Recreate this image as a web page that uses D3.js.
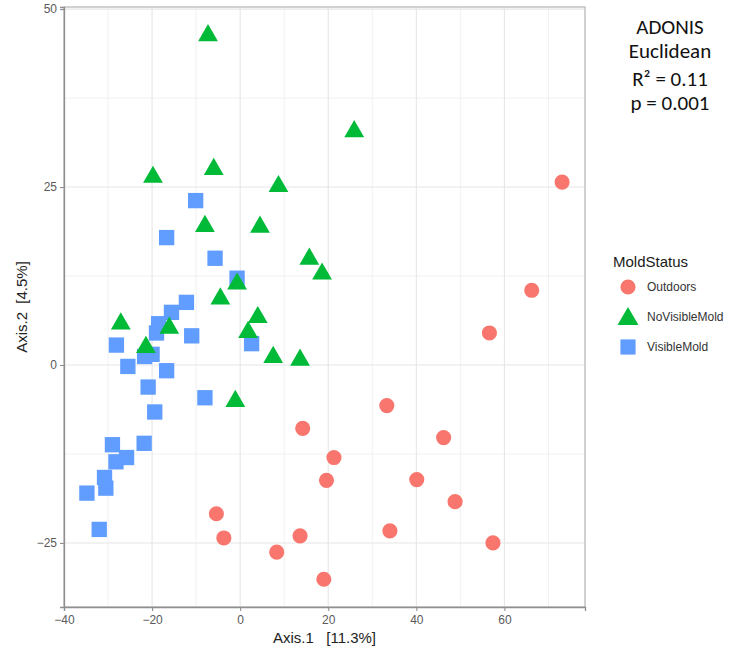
<!DOCTYPE html>
<html>
<head>
<meta charset="utf-8">
<script src="https://cdn.jsdelivr.net/npm/d3@7"></script>
<style>
  html, body { margin: 0; padding: 0; background: #ffffff; }
  svg { display: block; }
</style>
</head>
<body>
<svg id="chart" width="734" height="651"></svg>
<script>
// PCoA ordination of samples, coloured and shaped by mould status
const groups = ["Outdoors", "NoVisibleMold", "VisibleMold"];
const groupColors = ["#F8766D", "#00BA38", "#619CFF"];

const outdoorsX = [73.1, 66.2, 56.6, 33.3, 14.2, 46.2, 21.3, 19.6, 40.1, 48.8, -5.4, -3.7, 13.6, 34.0, 57.4, 8.3, 19.0];
const outdoorsY = [25.7, 10.5, 4.5, -5.7, -8.9, -10.2, -13.0, -16.2, -16.1, -19.2, -20.9, -24.3, -24.0, -23.3, -25.0, -26.3, -30.1];

const noVisibleX = [-7.3, 25.9, -19.8, -6.0, 8.7, -8.0, 4.5, 15.7, 18.6, -0.7, -4.5, 4.0, 1.8, -16.1, -27.1, -21.4, 7.5, 13.6, -1.1];
const noVisibleY = [46.3, 32.8, 26.4, 27.5, 25.1, 19.5, 19.4, 14.9, 12.8, 11.4, 9.3, 6.7, 4.6, 5.2, 5.8, 2.5, 1.1, 0.7, -5.1];

const visibleX = [-10.1, -16.7, -5.7, -0.7, -12.2, -15.6, -18.5, -19.0, -11.0, -28.1, -21.7, -20.0, -25.5, -16.7, 2.6, -20.9, -8.0, -19.4, -29.0, -21.8, -25.8, -28.2, -30.8, -30.5, -34.8, -32.0];
const visibleY = [23.1, 17.9, 15.0, 12.2, 8.8, 7.4, 5.8, 4.5, 4.1, 2.8, 1.2, 1.5, -0.2, -0.8, 3.0, -3.1, -4.6, -6.6, -11.2, -11.0, -13.0, -13.6, -15.8, -17.3, -18.0, -23.1];

const xTicks = [-40, -20, 0, 20, 40, 60];
const xMinor = [-30, -10, 10, 30, 50, 70];
const yTicks = [-25, 0, 25, 50];
const yMinor = [-12.5, 12.5, 37.5];

const statLines = ["ADONIS", "Euclidean", "R\u00b2 = 0.11", "p = 0.001"];

const svg = d3.select("#chart");
const panel = { left: 64, right: 585, top: 7, bottom: 607 };

const x = d3.scaleLinear().domain([-40, 78.3]).range([panel.left, panel.right]);
const y = d3.scaleLinear().domain([-34.0, 50.3]).range([panel.bottom, panel.top]);

const sansFont = "'Liberation Sans', Arial, Helvetica, sans-serif";

// grid
const grid = svg.append("g");
grid.selectAll(".xminor").data(xMinor.filter(v => x(v) < panel.right)).join("line")
  .attr("x1", d => x(d)).attr("x2", d => x(d))
  .attr("y1", panel.top).attr("y2", panel.bottom)
  .attr("stroke", "#ededed").attr("stroke-width", 0.8);
grid.selectAll(".yminor").data(yMinor).join("line")
  .attr("x1", panel.left).attr("x2", panel.right)
  .attr("y1", d => y(d)).attr("y2", d => y(d))
  .attr("stroke", "#ededed").attr("stroke-width", 0.8);
grid.selectAll(".xmajor").data(xTicks).join("line")
  .attr("x1", d => x(d)).attr("x2", d => x(d))
  .attr("y1", panel.top).attr("y2", panel.bottom)
  .attr("stroke", "#e6e6e6").attr("stroke-width", 1.1);
grid.selectAll(".ymajor").data(yTicks).join("line")
  .attr("x1", panel.left).attr("x2", panel.right)
  .attr("y1", d => y(d)).attr("y2", d => y(d))
  .attr("stroke", "#e6e6e6").attr("stroke-width", 1.1);

// panel border
svg.append("rect")
  .attr("x", panel.left).attr("y", panel.top)
  .attr("width", panel.right - panel.left).attr("height", panel.bottom - panel.top)
  .attr("fill", "none").attr("stroke", "#b3b3b3").attr("stroke-width", 1.2);

// axes
const xAxis = d3.axisBottom(x).tickValues(xTicks).tickSize(4).tickPadding(4).tickFormat(d3.format("d"));
const yAxis = d3.axisLeft(y).tickValues(yTicks).tickSize(4).tickPadding(3).tickFormat(d3.format("d"));

const gx = svg.append("g").attr("transform", `translate(0,${panel.bottom})`).call(xAxis);
const gy = svg.append("g").attr("transform", `translate(${panel.left},0)`).call(yAxis);
[gx, gy].forEach(g => {
  g.select(".domain").attr("stroke", "#8f8f8f").attr("stroke-width", 1.3);
  g.selectAll(".tick line").attr("stroke", "#8f8f8f").attr("stroke-width", 1.1);
  g.selectAll(".tick text").attr("fill", "#5a5a5a")
    .style("font-family", sansFont).style("font-size", "12px");
});

// axis titles
svg.append("text")
  .attr("x", (panel.left + panel.right) / 2).attr("y", 643)
  .attr("text-anchor", "middle")
  .style("font-family", sansFont).style("font-size", "15px").attr("fill", "#222")
  .attr("xml:space", "preserve")
  .text("Axis.1   [11.3%]");
svg.append("text")
  .attr("transform", `translate(27,${(panel.top + panel.bottom) / 2}) rotate(-90)`)
  .attr("text-anchor", "middle")
  .style("font-family", sansFont).style("font-size", "15px").attr("fill", "#222")
  .attr("xml:space", "preserve")
  .text("Axis.2  [4.5%]");

// points
const symCircle = d3.symbol().type(d3.symbolCircle).size(180);
const symTri = d3.symbol().type(d3.symbolTriangle).size(170);
const symSquare = d3.symbol().type(d3.symbolSquare).size(235);

const pts = svg.append("g");
function drawGroup(xs, ys, sym, color) {
  pts.append("g").selectAll("path")
    .data(xs.map((v, i) => [v, ys[i]]))
    .join("path")
    .attr("d", sym)
    .attr("transform", d => `translate(${x(d[0])},${y(d[1])})`)
    .attr("fill", color);
}
drawGroup(outdoorsX, outdoorsY, symCircle, groupColors[0]);
drawGroup(visibleX, visibleY, symSquare, groupColors[2]);
drawGroup(noVisibleX, noVisibleY, symTri, groupColors[1]);

// legend
const legend = svg.append("g").attr("transform", "translate(613,0)");
legend.append("text").attr("x", 0).attr("y", 267)
  .style("font-family", sansFont).style("font-size", "15px").attr("fill", "#1a1a1a")
  .text("MoldStatus");
const legendSyms = [
  d3.symbol().type(d3.symbolCircle).size(180),
  d3.symbol().type(d3.symbolTriangle).size(190),
  d3.symbol().type(d3.symbolSquare).size(230)
];
groups.forEach((g, i) => {
  const cy = 287 + i * 30;
  legend.append("path").attr("d", legendSyms[i]())
    .attr("transform", `translate(15,${cy + (i === 1 ? 2 : 0)})`)
    .attr("fill", groupColors[i]);
  legend.append("text").attr("x", 34).attr("y", cy + 4)
    .style("font-family", sansFont).style("font-size", "12px").attr("fill", "#333")
    .text(g);
});

// statistics annotation
const statBaselines = [34, 58, 86, 110];
const stats = svg.append("g");
statLines.forEach((s, i) => {
  stats.append("text")
    .attr("x", 670).attr("y", statBaselines[i])
    .attr("text-anchor", "middle")
    .style("font-family", "Carlito, Lato, 'Open Sans', sans-serif")
    .style("font-size", "21px").attr("fill", "#111")
    .text(s);
});
</script>
</body>
</html>
